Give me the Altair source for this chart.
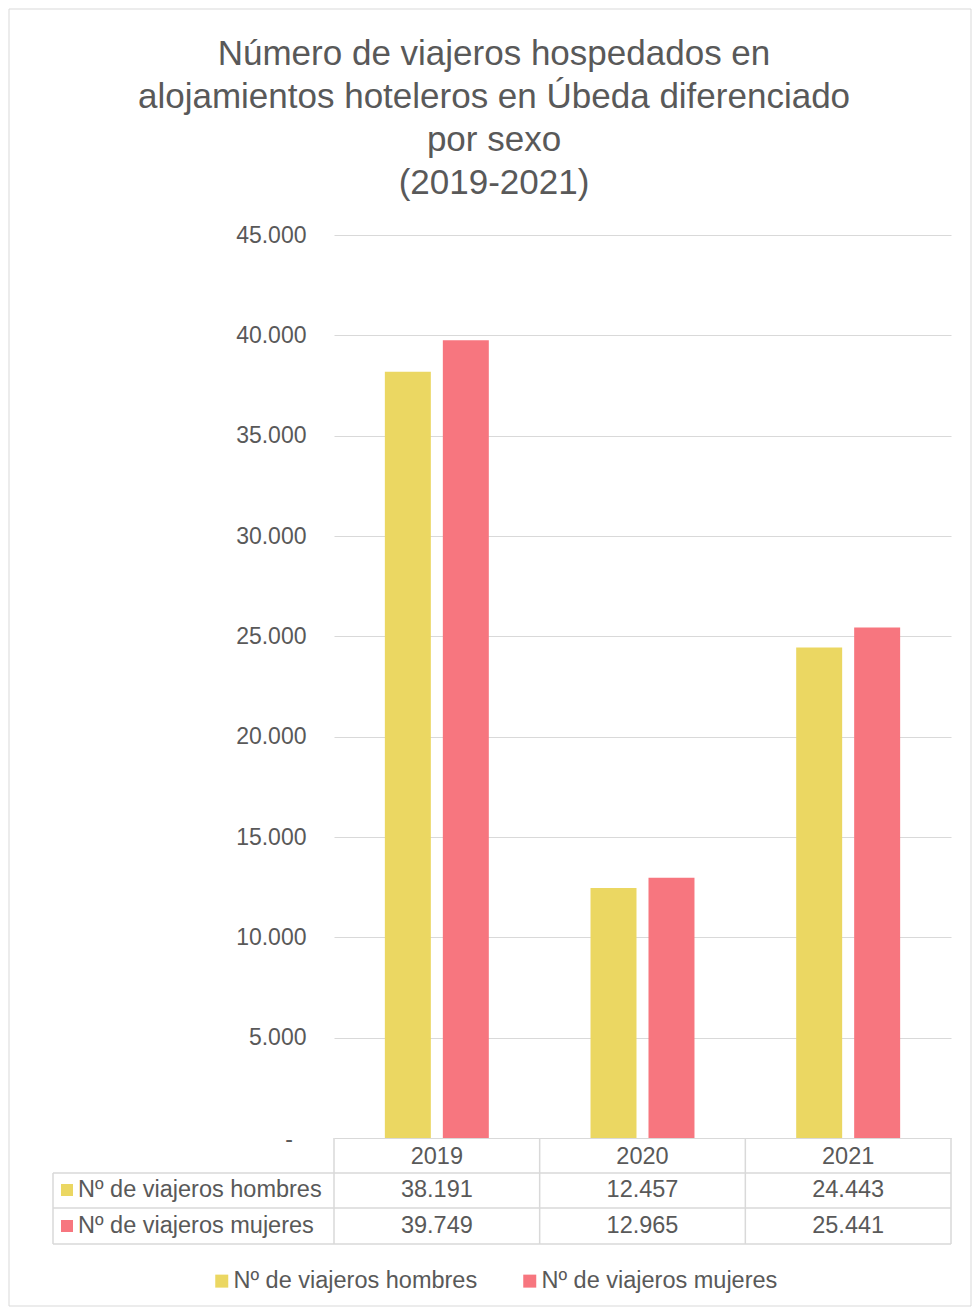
import altair as alt
import pandas as pd

years = ["2019", "2020", "2021"]
hombres = [38191, 12457, 24443]
mujeres = [39749, 12965, 25441]
series_names = ["Nº de viajeros hombres", "Nº de viajeros mujeres"]
series_values = [hombres, mujeres]
colors = ["#EBD762", "#F7767F"]
y_ticks = [0, 5000, 10000, 15000, 20000, 25000, 30000, 35000, 40000, 45000]
title_lines = [
    "Número de viajeros hospedados en",
    "alojamientos hoteleros en Úbeda diferenciado",
    "por sexo",
    "(2019-2021)",
]

rows = []
for name, vals in zip(series_names, series_values):
    for yr, v in zip(years, vals):
        rows.append({"year": yr, "serie": name, "valor": v,
                     "label": f"{v:,}".replace(",", ".")})
df = pd.DataFrame(rows)
df_years = pd.DataFrame({"year": years})

FONT = "Liberation Sans"
TXT = "#595959"
GRID = "#D9D9D9"
W, H = 617, 903
FS = 23.5

x_enc = alt.X("year:N", sort=years,
              scale=alt.Scale(paddingInner=0, paddingOuter=0),
              axis=alt.Axis(title=None, labelAngle=0, ticks=False, domain=False,
                            labelFontSize=FS, labelColor=TXT, labelFont=FONT,
                            labelBaseline="middle", labelPadding=18))

color_scale = alt.Scale(domain=series_names, range=colors)

one = alt.Data(values=[{}])

border = alt.Chart(one).mark_rect(
    fill="white", fillOpacity=0, stroke=GRID, strokeWidth=1
).encode(x=alt.value(-325), x2=alt.value(637), y=alt.value(-226), y2=alt.value(1071))

title = alt.Chart(one).mark_text(
    text=title_lines, fontSize=35, font=FONT, color=TXT, lineHeight=43,
    align="center", baseline="top"
).encode(x=alt.value(160), y=alt.value(-198))

bars = alt.Chart(df).mark_bar().encode(
    x=x_enc,
    xOffset=alt.XOffset("serie:N", sort=series_names,
                        scale=alt.Scale(paddingInner=0.207, paddingOuter=0.877)),
    y=alt.Y("valor:Q", scale=alt.Scale(domain=[0, 45000], nice=False),
            axis=alt.Axis(title=None, values=y_ticks, grid=True, gridColor=GRID,
                          gridWidth=1, domain=False, ticks=False, labelPadding=28,
                          labelFontSize=23, labelColor=TXT, labelFont=FONT,
                          labelExpr="datum.value == 0 ? '' : replace(format(datum.value, ','), ',', '.')")),
    color=alt.Color("serie:N", scale=color_scale, sort=series_names,
                    legend=alt.Legend(title=None, orient="none", direction="horizontal",
                                      legendX=-124, legendY=1034,
                                      symbolType="square", symbolSize=169,
                                      symbolStrokeWidth=0, labelFontSize=FS,
                                      labelColor=TXT, labelFont=FONT, labelLimit=0,
                                      labelOffset=0, columnPadding=40)),
)

zero_dash = alt.Chart(one).mark_text(
    text="-", fontSize=23, font=FONT, color=TXT, align="center", baseline="middle"
).encode(x=alt.value(-45), y=alt.value(H + 2))

# table structure
vlines = alt.Chart(df_years).mark_rule(color=GRID, strokeWidth=1.5).encode(
    x=alt.X("year:N", sort=years, bandPosition=0),
    y=alt.value(H), y2=alt.value(1009))
vline_right = alt.Chart(one).mark_rule(color=GRID, strokeWidth=1.5).encode(
    x=alt.value(W), y=alt.value(H), y2=alt.value(1009))
vline_left = alt.Chart(one).mark_rule(color=GRID, strokeWidth=1.5).encode(
    x=alt.value(-281), y=alt.value(938), y2=alt.value(1009))
hlines = [
    alt.Chart(one).mark_rule(color=GRID, strokeWidth=1.5).encode(
        x=alt.value(-281), x2=alt.value(W), y=alt.value(yy))
    for yy in (938, 973, 1009)
]

row_y = [955, 991]
table_layers = []
for i, name in enumerate(series_names):
    sub = df[df["serie"] == name]
    table_layers.append(
        alt.Chart(sub).mark_text(fontSize=FS, font=FONT, color=TXT, baseline="middle").encode(
            x=alt.X("year:N", sort=years), y=alt.value(row_y[i]), text="label:N"))
    table_layers.append(
        alt.Chart(alt.Data(values=[{"serie": name}])).mark_square(size=144, opacity=1).encode(
            x=alt.value(-267), y=alt.value(row_y[i]),
            color=alt.Color("serie:N", scale=color_scale, legend=None)))
    table_layers.append(
        alt.Chart(alt.Data(values=[{"serie": name}])).mark_text(
            fontSize=FS, font=FONT, color=TXT, align="left", baseline="middle").encode(
            x=alt.value(-256), y=alt.value(row_y[i]), text="serie:N"))

chart = alt.layer(border, title, bars, zero_dash, vlines, vline_right, vline_left,
                  *hlines, *table_layers).properties(
    width=W, height=H,
    autosize=alt.AutoSizeParams(type="none"),
    padding={"left": 326, "top": 227, "right": 21, "bottom": 169},
).configure_view(stroke=None).configure_legend(padding=0)

chart.save("out.html", embed_options={"renderer": "svg", "actions": False})
